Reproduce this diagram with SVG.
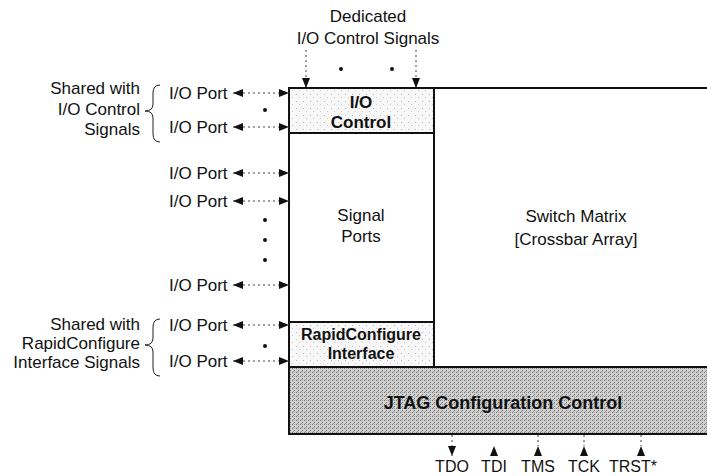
<svg xmlns="http://www.w3.org/2000/svg" width="707" height="476" viewBox="0 0 707 476">
<style>
text{font-family:"Liberation Sans",Arial,sans-serif;fill:#111}
.t{font-size:17px}
.s{font-size:16px}
.b{font-size:17px;font-weight:bold}
.box{stroke:#111;stroke-width:2}
.dash{stroke:#444;stroke-width:1;stroke-dasharray:2 3;fill:none}
.brace{stroke:#222;stroke-width:1;fill:none}
.dot{fill:#111}
.head{fill:#111}
</style>
<defs>
<marker id="ah" viewBox="0 0 10 8" refX="10" refY="4" markerWidth="10" markerHeight="8" markerUnits="userSpaceOnUse" orient="auto-start-reverse">
<path d="M0,0 L10,4 L0,8 Z" fill="#111"/>
</marker>
<path id="up" d="M-4,10 L0,0 L4,10 Z"/>
<pattern id="light" width="7" height="7" patternUnits="userSpaceOnUse">
<rect width="7" height="7" fill="#f7f7f7"/>
<rect x="2" y="3" width="1" height="1" fill="#bbb"/>
<rect x="5" y="6" width="1" height="1" fill="#ccc"/>
</pattern>
<pattern id="dark" width="4" height="4" patternUnits="userSpaceOnUse">
<rect width="4" height="4" fill="#d2d2d2"/>
<rect x="0" y="0" width="1" height="1" fill="#707070"/>
<rect x="2" y="2" width="1" height="1" fill="#707070"/>
<rect x="2" y="0" width="1" height="1" fill="#a0a0a0"/>
<rect x="1" y="3" width="1" height="1" fill="#909090"/>
</pattern>
</defs>

<g id="switch-matrix">
<rect class="box" x="434" y="88" width="290" height="279" fill="#fff"/>
<text class="t" x="576" y="222" text-anchor="middle">Switch Matrix</text>
<text class="t" x="576" y="245" text-anchor="middle">[Crossbar Array]</text>
</g>
<g id="io-control">
<rect class="box" x="289" y="88" width="145" height="45" fill="url(#light)"/>
<text class="b" x="361" y="108" text-anchor="middle">I/O</text>
<text class="b" x="361" y="128" text-anchor="middle">Control</text>
</g>
<g id="signal-ports">
<rect class="box" x="289" y="133" width="145" height="189" fill="#fff"/>
<text class="t" x="361" y="221" text-anchor="middle">Signal</text>
<text class="t" x="361" y="242" text-anchor="middle">Ports</text>
</g>
<g id="rapidconfigure">
<rect class="box" x="289" y="322" width="145" height="45" fill="url(#light)"/>
<text class="b" x="361" y="340" text-anchor="middle" style="font-size:16px">RapidConfigure</text>
<text class="b" x="361" y="359" text-anchor="middle" style="font-size:16px">Interface</text>
</g>
<g id="jtag">
<rect class="box" x="289" y="367" width="430" height="67" fill="url(#dark)"/>
<text class="b" x="503" y="409" text-anchor="middle" style="font-size:18px">JTAG Configuration Control</text>
</g>

<g id="labels">
<text class="t" x="368" y="22" text-anchor="middle">Dedicated</text>
<text class="t" x="368" y="44" text-anchor="middle">I/O Control Signals</text>
<text class="t" x="140" y="94" text-anchor="end">Shared with</text>
<text class="t" x="140" y="115" text-anchor="end">I/O Control</text>
<text class="t" x="140" y="135" text-anchor="end">Signals</text>
<text class="t" x="140" y="330" text-anchor="end">Shared with</text>
<text class="t" x="140" y="349" text-anchor="end">RapidConfigure</text>
<text class="t" x="140" y="368" text-anchor="end">Interface Signals</text>
<g class="t">
<text x="169" y="99">I/O Port</text>
<text x="169" y="133">I/O Port</text>
<text x="169" y="179">I/O Port</text>
<text x="169" y="207">I/O Port</text>
<text x="169" y="291">I/O Port</text>
<text x="169" y="331">I/O Port</text>
<text x="169" y="367">I/O Port</text>
</g>
<text class="s" x="452" y="472" text-anchor="middle">TDO</text>
<text class="s" x="494" y="472" text-anchor="middle">TDI</text>
<text class="s" x="538" y="472" text-anchor="middle">TMS</text>
<text class="s" x="584" y="472" text-anchor="middle">TCK</text>
<text class="s" x="633" y="472" text-anchor="middle">TRST*</text>
</g>

<g id="braces">
<path class="brace" d="M160,85 Q153,85 153,93 L153,104 Q153,111 145,111 Q153,111 153,118 L153,134 Q153,142 160,142"/>
<path class="brace" d="M160,319 Q153,319 153,327 L153,338 Q153,345 145,345 Q153,345 153,352 L153,368 Q153,376 160,376"/>
</g>

<g id="connectors">
<line class="dash" x1="233" y1="93" x2="289" y2="93" marker-start="url(#ah)" marker-end="url(#ah)"/>
<line class="dash" x1="233" y1="127" x2="289" y2="127" marker-start="url(#ah)" marker-end="url(#ah)"/>
<line class="dash" x1="233" y1="173" x2="289" y2="173" marker-start="url(#ah)" marker-end="url(#ah)"/>
<line class="dash" x1="233" y1="201" x2="289" y2="201" marker-start="url(#ah)" marker-end="url(#ah)"/>
<line class="dash" x1="233" y1="285" x2="289" y2="285" marker-start="url(#ah)" marker-end="url(#ah)"/>
<line class="dash" x1="233" y1="325" x2="289" y2="325" marker-start="url(#ah)" marker-end="url(#ah)"/>
<line class="dash" x1="233" y1="361" x2="289" y2="361" marker-start="url(#ah)" marker-end="url(#ah)"/>
<line class="dash" x1="306" y1="50" x2="306" y2="88" marker-end="url(#ah)"/>
<line class="dash" x1="416" y1="50" x2="416" y2="88" marker-end="url(#ah)"/>
<line class="dash" x1="452" y1="435" x2="452" y2="456" marker-end="url(#ah)"/>
<line class="dash" x1="538" y1="435" x2="538" y2="446"/>
<line class="dash" x1="584" y1="435" x2="584" y2="446"/>
<line class="dash" x1="641" y1="435" x2="641" y2="446"/>
<use href="#up" class="head" x="494" y="446"/>
<use href="#up" class="head" x="538" y="446"/>
<use href="#up" class="head" x="584" y="446"/>
<use href="#up" class="head" x="641" y="446"/>
</g>

<g id="ellipsis-dots">
<circle class="dot" cx="341" cy="69" r="2"/>
<circle class="dot" cx="392" cy="69" r="2"/>
<circle class="dot" cx="265" cy="110" r="2"/>
<circle class="dot" cx="265" cy="220" r="2"/>
<circle class="dot" cx="265" cy="240" r="2"/>
<circle class="dot" cx="265" cy="260" r="2"/>
<circle class="dot" cx="265" cy="346" r="2"/>
</g>
</svg>
